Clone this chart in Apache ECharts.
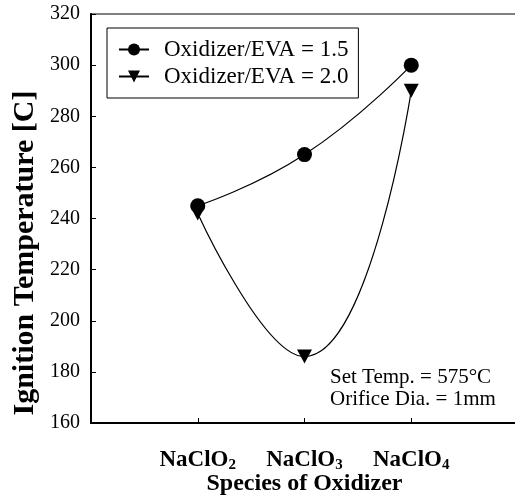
<!DOCTYPE html>
<html>
<head>
<meta charset="utf-8">
<script src="https://cdn.jsdelivr.net/npm/echarts@6/dist/echarts.min.js"></script>
<style>
    html, body { margin: 0; padding: 0; background: #fff; }
    #chart { width: 515px; height: 497px; }
</style>
</head>
<body>
<div id="chart"></div>
<script>
var categories = ['NaClO2', 'NaClO3', 'NaClO4'];
var subscripts = ['2', '3', '4'];
var ratio15 = [245, 265, 300];
var ratio20 = [242, 186, 290];
var seriesNames = ['Oxidizer/EVA = 1.5', 'Oxidizer/EVA = 2.0'];

var serif = 'Liberation Serif, Times New Roman, serif';
var downTriangle = 'path://M0,0 L10,0 L5,9 Z';

// categories sit at x = 1, 2, 3 on a 0..4 value axis
function toPoints(values) {
    return values.map((v, i) => [i + 1, v]);
}

var chart = echarts.init(document.getElementById('chart'));
chart.setOption({
    animation: false,
    grid: {
        left: 91,
        top: 14,
        height: 409,
        width: 427,
        outerBoundsMode: 'none',
        containLabel: false,
        show: true,
        borderColor: '#000',
        borderWidth: 1.2
    },
    legend: {
        left: 107,
        top: 28,
        orient: 'vertical',
        padding: [10, 10, 10, 11],
        itemWidth: 30,
        itemHeight: 15,
        itemGap: 4,
        borderColor: '#000',
        borderWidth: 1,
        textStyle: { fontFamily: serif, fontSize: 23, color: '#000', lineHeight: 20, padding: [0, 0, 0, 10] },
        data: seriesNames
    },
    xAxis: {
        type: 'value',
        min: 0,
        max: 4,
        interval: 1,
        name: 'Species of Oxidizer',
        nameLocation: 'middle',
        nameGap: 49,
        nameMoveOverlap: false,
        nameTextStyle: { fontFamily: serif, fontSize: 24, fontWeight: 'bold', color: '#000' },
        axisLine: { lineStyle: { color: '#000', width: 2 } },
        axisTick: { inside: true, length: 5, lineStyle: { color: '#000' } },
        splitLine: { show: false },
        axisLabel: {
            margin: 25,
            formatter: function (v) {
                var i = Math.round(v) - 1;
                if (i < 0 || i >= categories.length) return '';
                return '{b|' + categories[i].slice(0, -1) + '}{s|' + subscripts[i] + '}';
            },
            rich: {
                b: { fontFamily: serif, fontSize: 23, fontWeight: 'bold', color: '#000' },
                s: { fontFamily: serif, fontSize: 15, fontWeight: 'bold', color: '#000', padding: [10, 0, 0, 0] }
            }
        }
    },
    yAxis: {
        type: 'value',
        min: 160,
        max: 320,
        interval: 20,
        axisLine: { show: true, lineStyle: { color: '#000', width: 2 } },
        axisTick: { show: true, inside: true, length: 5, lineStyle: { color: '#000' } },
        splitLine: { show: false },
        axisLabel: { margin: 11, fontFamily: serif, fontSize: 20, color: '#000' }
    },
    graphic: [
        {
            type: 'text',
            x: 25,
            y: 253,
            rotation: Math.PI / 2,
            style: {
                text: 'Ignition Temperature [C]',
                fontFamily: serif,
                fontSize: 30,
                fontWeight: 'bold',
                fill: '#000',
                textAlign: 'center',
                textVerticalAlign: 'middle'
            }
        },
        {
            type: 'text',
            x: 330,
            y: 377,
            style: {
                text: 'Set Temp. = 575°C',
                fontFamily: serif,
                fontSize: 21,
                fill: '#000',
                textVerticalAlign: 'middle'
            }
        },
        {
            type: 'text',
            x: 330,
            y: 399,
            style: {
                text: 'Orifice Dia. = 1mm',
                fontFamily: serif,
                fontSize: 21,
                fill: '#000',
                textVerticalAlign: 'middle'
            }
        }
    ],
    series: [
        {
            name: seriesNames[0],
            type: 'line',
            smooth: true,
            symbol: 'circle',
            symbolSize: 15,
            itemStyle: { color: '#000' },
            lineStyle: { color: '#000', width: 1.2 },
            data: toPoints(ratio15)
        },
        {
            name: seriesNames[1],
            type: 'line',
            smooth: true,
            symbol: downTriangle,
            symbolSize: [15, 14],
            itemStyle: { color: '#000' },
            lineStyle: { color: '#000', width: 1.2 },
            data: toPoints(ratio20)
        }
    ]
});
</script>
</body>
</html>
